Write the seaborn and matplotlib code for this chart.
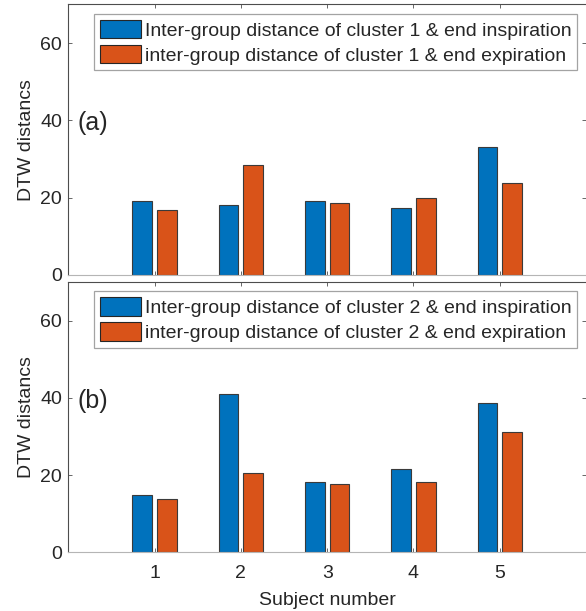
import matplotlib
matplotlib.use("Agg")
import matplotlib.pyplot as plt
import seaborn as sns
import pandas as pd

# values
subjects = [1, 2, 3, 4, 5]
c1_inspiration = [19.1, 18.0, 19.1, 17.3, 33.0]
c1_expiration = [16.8, 28.4, 18.7, 19.9, 23.7]
c2_inspiration = [14.8, 41.1, 18.3, 21.5, 38.6]
c2_expiration = [13.7, 20.6, 17.6, 18.3, 31.2]
panel_labels = ["(a)", "(b)"]
y_ticks = [0, 20, 40, 60]

blue = "#0072BD"
orange = "#D95319"
fs = 14

sns.set_style("white")
plt.rcParams["font.family"] = ["Liberation Sans", "DejaVu Sans"]
plt.rcParams["font.size"] = fs


def long_table(insp, expi, k):
    n_insp = f"Inter-group distance of cluster {k} & end inspiration"
    n_expi = f"inter-group distance of cluster {k} & end expiration"
    df = pd.DataFrame({
        "subject": subjects * 2,
        "dist": insp + expi,
        "series": [n_insp] * len(subjects) + [n_expi] * len(subjects),
    })
    return df, [n_insp, n_expi]


fig = plt.figure(figsize=(5.86, 6.11), dpi=100)
ax_top = fig.add_axes([0.1166, 0.5500, 0.8834, 0.4427])
ax_bot = fig.add_axes([0.1166, 0.0961, 0.8834, 0.4424])

panels = [
    (ax_top, c1_inspiration, c1_expiration, 1),
    (ax_bot, c2_inspiration, c2_expiration, 2),
]

for i, (ax, insp, expi, k) in enumerate(panels):
    df, names = long_table(insp, expi, k)
    sns.barplot(data=df, x="subject", y="dist", hue="series", hue_order=names,
                palette=[blue, orange], native_scale=True, width=0.57, gap=0.2,
                saturation=1, edgecolor="#3a3a3a", linewidth=0.8, ax=ax)
    ax.set_xlim(0, 6)
    ax.set_ylim(0, 70)
    ax.set_xticks(subjects)
    ax.set_yticks(y_ticks)
    ax.tick_params(direction="in", length=3, width=0.6, color="#4d4d4d",
                   top=True, right=True, bottom=True, left=True, pad=4.5,
                   labelsize=fs, labelcolor="#262626")
    ax.tick_params(axis="x", pad=9)
    for side in ["left", "top"]:
        ax.spines[side].set_color("#4d4d4d")
        ax.spines[side].set_linewidth(0.8)
    ax.spines["bottom"].set_color("#b5b5b5")
    ax.spines["bottom"].set_linewidth(0.8)
    ax.spines["right"].set_visible(False)
    ax.set_ylabel("DTW distancs", fontsize=fs, color="#262626", labelpad=4)
    ax.text(0.11, 39.3, panel_labels[i], fontsize=18, ha="left", va="center",
            color="#262626")
    leg = ax.legend(loc="upper left", bbox_to_anchor=(0.05, 0.965),
                    frameon=True, fancybox=False, fontsize=fs,
                    handlelength=2.1, handleheight=1.1, handletextpad=0.2,
                    labelspacing=0.25, borderpad=0.3, borderaxespad=0)
    leg.get_frame().set_edgecolor("#8c8c8c")
    leg.get_frame().set_linewidth(0.9)
    for h in leg.legend_handles:
        h.set_edgecolor("#262626")

ax_top.set_xlabel("")
ax_top.set_xticklabels([])
ax_bot.set_xlabel("Subject number", fontsize=fs, color="#262626", labelpad=7)

fig.savefig("out.png", dpi=100)
